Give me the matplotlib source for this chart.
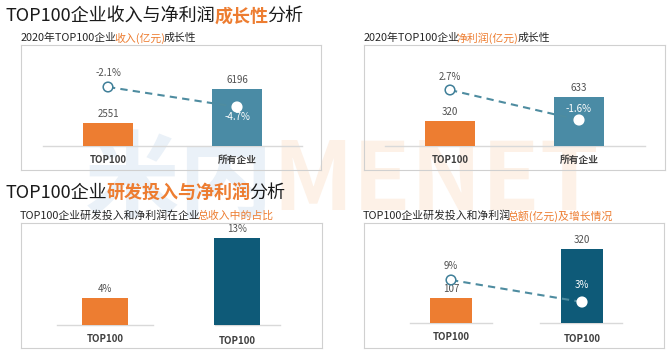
import matplotlib
matplotlib.use('Agg')
import matplotlib.pyplot as plt
from matplotlib.font_manager import FontProperties
from matplotlib.textpath import TextPath

FAMILY = ['Noto Sans CJK SC', 'DejaVu Sans']
plt.rcParams['font.family'] = FAMILY

# ---- data ----
top_cats = ['TOP100', '所有企业']
revenue = [2551, 6196]              # 亿元
revenue_growth = [-2.1, -4.7]       # %
profit = [320, 633]                 # 亿元
profit_growth = [2.7, -1.6]         # %
bottom_cats = ['TOP100', 'TOP100']
share_of_revenue = [4, 13]          # %
rd_profit_total = [107, 320]        # 亿元
rd_profit_growth = [9, 3]           # %

ORANGE = '#ED7D31'
BLUE = '#4A8BA5'
DARK = '#0E5A78'
TEAL = '#3F7F98'
GREY_TXT = '#505050'
W, H = 670, 353
DPI = 100

fig = plt.figure(figsize=(W / DPI, H / DPI), dpi=DPI)
fig.patch.set_facecolor('white')

# background axes in pixel coordinates for titles / watermark
bg = fig.add_axes([0, 0, 1, 1])
bg.set_xlim(0, W)
bg.set_ylim(H, 0)
bg.axis('off')


def ink_width(s, size, weight):
    # width of the glyph outlines in pixels
    fp = FontProperties(family=FAMILY, size=size, weight=weight)
    return TextPath((0, 0), s, prop=fp).get_extents().width * DPI / 72


def rich(x, y, parts, size, zorder=2):
    # pieces of one line in different colours, laid side by side
    gap = 0.09 * size * DPI / 72
    for s, color, weight in parts:
        bg.text(x, y, s, color=color, fontsize=size, fontweight=weight,
                ha='left', va='center_baseline', zorder=zorder)
        # rendered text with latin letters/digits comes out a little narrower
        trim = 0
        if size < 10 and any(ch.isascii() and ch.isalnum() for ch in s):
            trim = 3
        elif weight == 'bold' and size < 20:
            trim = 2.5
        x += ink_width(s, size, weight) + gap - trim


# watermark
rich(85, 172, [('米内', '#EAF1F8', 'bold'), ('MENET', '#FDF1E7', 'bold')], 68, zorder=0)

# section titles
rich(5, 14, [('TOP100企业收入与净利润', '#1A1A1A', 'normal'),
             ('成长性', ORANGE, 'bold'), ('分析', '#1A1A1A', 'normal')], 13)
rich(5, 191, [('TOP100企业', '#1A1A1A', 'normal'),
              ('研发投入与净利润', ORANGE, 'bold'), ('分析', '#1A1A1A', 'normal')], 13)

# panel subtitles
rich(21, 37, [('2020年TOP100企业', '#262626', 'normal'), ('收入(亿元)', ORANGE, 'normal'),
              ('成长性', '#262626', 'normal')], 7.8)
rich(364, 37, [('2020年TOP100企业', '#262626', 'normal'), ('净利润(亿元)', ORANGE, 'normal'),
               ('成长性', '#262626', 'normal')], 7.8)
rich(20, 215, [('TOP100企业研发投入和净利润在企业', '#262626', 'normal'),
               ('总收入中的占比', ORANGE, 'normal')], 7.8)
rich(363, 215, [('TOP100企业研发投入和净利润', '#262626', 'normal'),
                ('总额(亿元)及增长情况', ORANGE, 'normal')], 7.8)


def panel(box, centers, bar_w, base, max_top, vals, colors, fmt, baselines, line=None):
    l, t, r, b = box
    ax = fig.add_axes([l / W, 1 - b / H, (r - l) / W, (b - t) / H])
    ax.set_facecolor('none')
    unit = centers[1] - centers[0]
    ax.set_xlim((l - centers[0]) / unit, (r - centers[0]) / unit)
    k = max(vals) / (base - max_top)
    ax.set_ylim(-(b - base) * k, (base - t) * k)
    xs = [0, 1]
    ax.bar(xs, vals, width=bar_w / unit, color=colors, zorder=2)
    for x, v in zip(xs, vals):
        ax.annotate(fmt(v), (x, v), xytext=(0, 6.5), textcoords='offset points',
                    ha='center', va='center', fontsize=7, color=GREY_TXT)
    for x0, x1 in baselines:
        ax.plot([(x0 - centers[0]) / unit, (x1 - centers[0]) / unit], [0, 0],
                color='#D9D9D9', lw=1, zorder=1)
    for spine in ax.spines.values():
        spine.set_color('#D0D0D0')
        spine.set_linewidth(0.8)
    ax.set_xticks([])
    ax.set_yticks([])

    if line is not None:
        lvals, lpx, loffs, lcolors = line
        ax2 = ax.twinx()
        kk = (lvals[0] - lvals[1]) / (lpx[1] - lpx[0])
        ax2.set_ylim(lvals[0] - (b - lpx[0]) * kk, lvals[0] + (lpx[0] - t) * kk)
        ax2.set_xlim(ax.get_xlim())
        ax2.plot(xs, lvals, ls=(0, (3.5, 2.5)), color='#4E8CA0', lw=1.5, zorder=3)
        ax2.scatter(xs, lvals, s=48, facecolor='white', edgecolors=[TEAL, 'white'],
                    linewidths=1.1, zorder=4)
        for x, v, off, c in zip(xs, lvals, loffs, lcolors):
            ax2.annotate(f'{v:g}%', (x, v), xytext=(0, off), textcoords='offset points',
                         ha='center', va='center', fontsize=7, color=c)
        ax2.set_yticks([])
        for spine in ax2.spines.values():
            spine.set_visible(False)
    return ax


def xlabels(cats, xs_px, ys_px):
    for c, x, y in zip(cats, xs_px, ys_px):
        bg.text(x, y, c, ha='center', va='center', fontsize=7, fontweight='bold',
                color='#404040')


# panel 1: revenue
panel((21, 45, 321, 170), (108, 237), 50, 146, 89, revenue, [ORANGE, BLUE],
      lambda v: f'{v}', [(43, 302)],
      line=(revenue_growth, (87, 107), (10, -7.5), [GREY_TXT, 'white']))
xlabels(top_cats, (108, 237), (160, 160))

# panel 2: profit
panel((364, 45, 665, 170), (450, 579), 50, 146, 97, profit, [ORANGE, BLUE],
      lambda v: f'{v}', [(385, 645)],
      line=(profit_growth, (90, 120), (9.5, 8), [GREY_TXT, 'white']))
xlabels(top_cats, (450, 579), (160, 160))

# panel 3: share of revenue
panel((21, 223, 322, 348), (105, 237), 46, 325, 238, share_of_revenue,
      [ORANGE, DARK], lambda v: f'{v}%', [(57, 153), (215, 280)])
xlabels(bottom_cats, (105, 237), (339, 341))

# panel 4: R&D and profit totals
panel((364, 223, 664, 348), (451, 582), 42, 323, 249, rd_profit_total,
      [ORANGE, DARK], lambda v: f'{v}', [(410, 492), (540, 622)],
      line=(rd_profit_growth, (280, 302), (10, 12), [GREY_TXT, 'white']))
xlabels(bottom_cats, (451, 582), (337, 339))

fig.savefig('out.png', dpi=DPI, facecolor='white')
